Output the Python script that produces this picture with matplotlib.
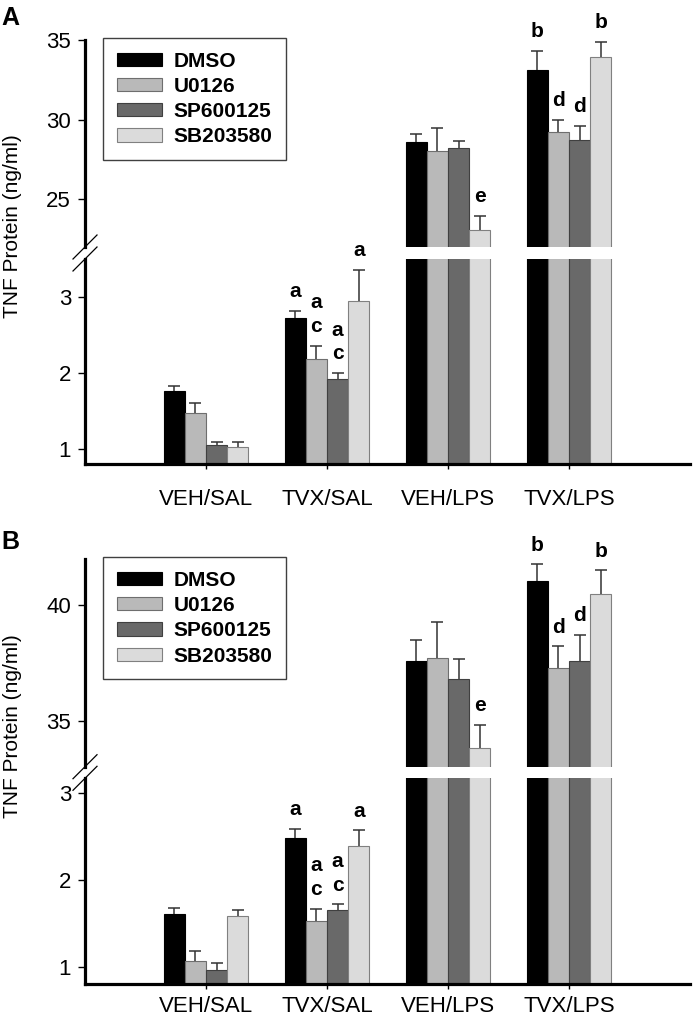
import matplotlib

matplotlib.use("Agg")
import matplotlib.pyplot as plt
import numpy as np
from matplotlib.lines import Line2D

plt.rcParams["font.family"] = ["Liberation Sans", "DejaVu Sans"]

GROUPS = ["VEH/SAL", "TVX/SAL", "VEH/LPS", "TVX/LPS"]
SERIES = ["DMSO", "U0126", "SP600125", "SB203580"]
COLORS = ["#000000", "#b9b9b9", "#696969", "#dbdbdb"]
EDGES = ["#000000", "#6e6e6e", "#404040", "#808080"]

# rows = series (DMSO, U0126, SP600125, SB203580), cols = groups
A_MEANS = [
    [1.77, 2.72, 28.57, 33.11],
    [1.48, 2.18, 28.06, 29.21],
    [1.06, 1.92, 28.20, 28.75],
    [1.03, 2.95, 23.09, 33.91],
]
A_ERRS = [
    [0.06, 0.10, 0.54, 1.22],
    [0.12, 0.18, 1.42, 0.76],
    [0.03, 0.08, 0.43, 0.86],
    [0.06, 0.41, 0.86, 0.96],
]
B_MEANS = [
    [1.61, 2.48, 37.57, 41.04],
    [1.07, 1.53, 37.71, 37.30],
    [0.97, 1.65, 36.81, 37.57],
    [1.59, 2.39, 33.83, 40.50],
]
B_ERRS = [
    [0.07, 0.11, 0.91, 0.74],
    [0.11, 0.14, 1.55, 0.92],
    [0.08, 0.07, 0.86, 1.14],
    [0.07, 0.18, 0.98, 1.02],
]
LETTERS = [
    ["", "a", "", "b"],
    ["", "a\nc", "", "d"],
    ["", "a\nc", "", "d"],
    ["", "a", "e", "b"],
]

W_PX, H_PX = 694, 1025
LEFT, WIDTH = 85 / W_PX, 605 / W_PX
BAR_W = 0.175


def px_axes(fig, top, bottom):
    return fig.add_axes([LEFT, 1 - bottom / H_PX, WIDTH, (bottom - top) / H_PX])


def draw_panel(fig, ax_top, ax_bot, means, errs, top_lim, bot_lim, top_ticks, xpad):
    x = np.arange(1, len(GROUPS) + 1)
    for ax in (ax_top, ax_bot):
        for i, name in enumerate(SERIES):
            xs = x + (i - 1.5) * BAR_W
            ax.bar(xs, means[i], BAR_W, color=COLORS[i], edgecolor=EDGES[i],
                   linewidth=0.8, label=name, zorder=2)
            eb = ax.errorbar(xs, means[i], yerr=[np.zeros(len(GROUPS)), errs[i]], fmt="none",
                             ecolor="#333333", elinewidth=1.1, capsize=4.2, capthick=1.1, zorder=3)
            eb.lines[1][0].set_visible(False)  # no cap at the bar top
        ax.set_xlim(0, 5)
        ax.spines["top"].set_visible(False)
        ax.spines["right"].set_visible(False)
        ax.spines["left"].set_linewidth(2.3)
        ax.tick_params(axis="y", direction="out", length=5, width=1, labelsize=16, pad=5)
    ax_top.set_ylim(*top_lim)
    ax_bot.set_ylim(*bot_lim)
    ax_top.set_yticks(top_ticks)
    ax_bot.set_yticks([1, 2, 3])
    ax_top.spines["bottom"].set_visible(False)
    ax_top.set_xticks([])
    ax_bot.spines["bottom"].set_linewidth(2.3)
    ax_bot.set_xticks(x, GROUPS)
    ax_bot.tick_params(axis="x", direction="out", length=3.5, width=1, labelsize=16, pad=xpad)

    # significance letters
    for i in range(len(SERIES)):
        for g in range(len(GROUPS)):
            txt = LETTERS[i][g]
            if not txt:
                continue
            top = means[i][g] + errs[i][g]
            ax = ax_top if top > top_lim[0] else ax_bot
            ax.annotate(txt, (x[g] + (i - 1.5) * BAR_W, top), xytext=(0, 7),
                        textcoords="offset points", ha="center", va="bottom",
                        fontsize=15, fontweight="bold", linespacing=1.3,
                        annotation_clip=False)

    # axis break marks
    d = 12
    for ax, frac in ((ax_top, 0), (ax_bot, 1)):
        pos = ax.get_position()
        x0 = pos.x0
        y0 = pos.y0 + frac * pos.height
        fig.add_artist(Line2D([x0 - d / W_PX, x0 + d / W_PX], [y0 - d / H_PX, y0 + d / H_PX],
                              color="black", lw=0.9, transform=fig.transFigure))

    leg_top = ax_top.get_position().y1 + 2 / H_PX
    ax_top.legend(loc="upper left", bbox_to_anchor=(103 / W_PX, leg_top), bbox_transform=fig.transFigure,
                  borderaxespad=0, fancybox=False, edgecolor="#404040", framealpha=1,
                  prop={"weight": "bold", "size": 15}, handlelength=2.2, handleheight=0.6,
                  handletextpad=0.55, labelspacing=0.3, borderpad=0.65)


def main() -> None:
    fig = plt.figure(figsize=(W_PX / 100, H_PX / 100), dpi=100)

    a_top = px_axes(fig, 40, 247)
    a_bot = px_axes(fig, 259, 464.3)
    draw_panel(fig, a_top, a_bot, A_MEANS, A_ERRS, (22, 35), (0.8, 3.5), [25, 30, 35], 14)

    b_top = px_axes(fig, 559.3, 766.7)
    b_bot = px_axes(fig, 778.3, 984.3)
    draw_panel(fig, b_top, b_bot, B_MEANS, B_ERRS, (33, 42), (0.8, 3.17), [35, 40], 5)

    fig.text(12.8 / W_PX, 1 - 226 / H_PX, "TNF Protein (ng/ml)", rotation=90,
             ha="center", va="center", fontsize=15)
    fig.text(12.8 / W_PX, 1 - 726.3 / H_PX, "TNF Protein (ng/ml)", rotation=90,
             ha="center", va="center", fontsize=15)
    fig.text(1.5 / W_PX, 1 - 25 / H_PX, "A", fontsize=18, fontweight="bold", va="baseline")
    fig.text(1.5 / W_PX, 1 - 549.3 / H_PX, "B", fontsize=18, fontweight="bold", va="baseline")

    fig.savefig("out.png", dpi=100, facecolor="white")
    plt.close(fig)


if __name__ == "__main__":
    main()
